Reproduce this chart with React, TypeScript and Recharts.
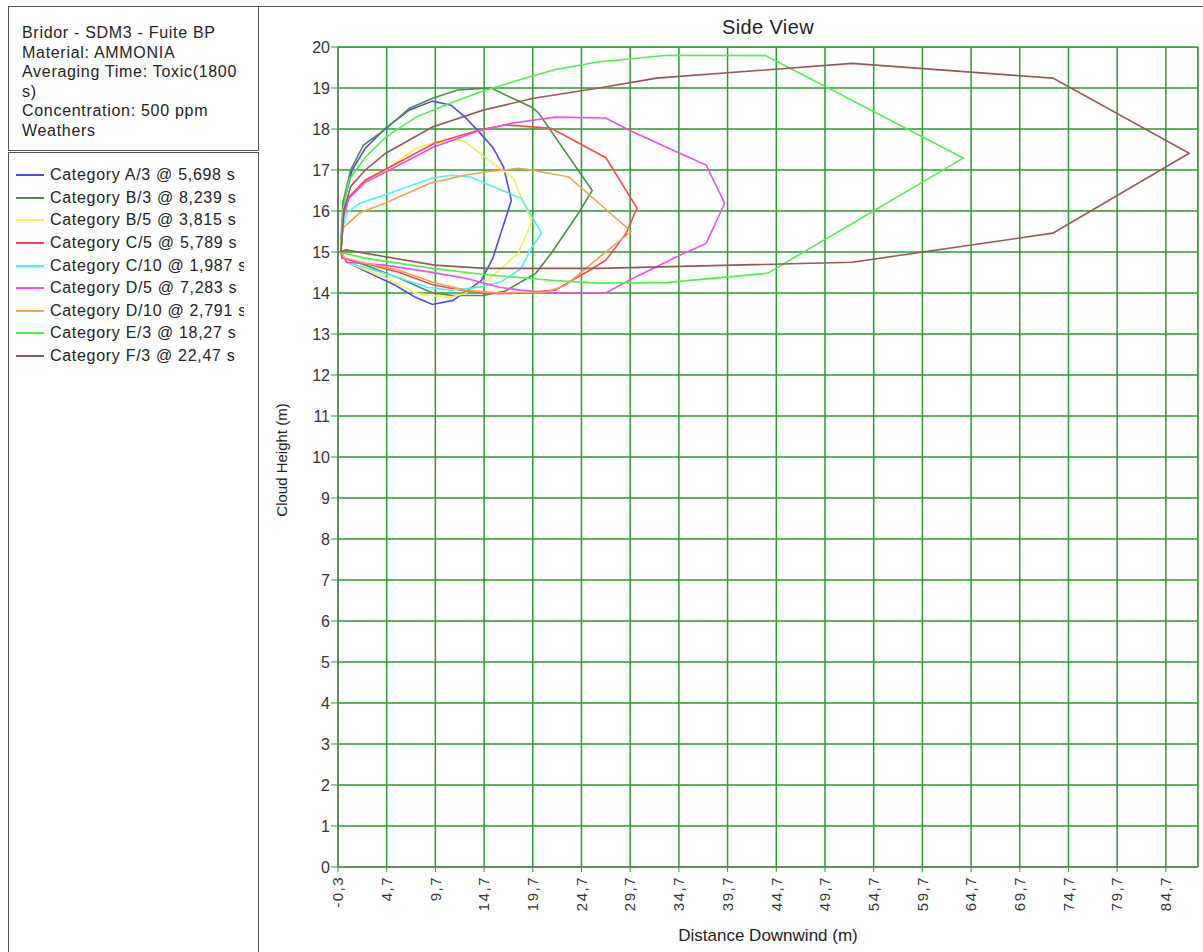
import { LineChart, Line, XAxis, YAxis, CartesianGrid } from 'recharts';

// Side view of the ammonia cloud (500 ppm) for each weather category
const catA3 = [
  { x: 0, y: 15 }, { x: 0.1, y: 15.7 }, { x: 0.4, y: 16.3 }, { x: 1.15, y: 17.0 }, { x: 2.5, y: 17.53 },
  { x: 4.6, y: 18.02 }, { x: 7.0, y: 18.46 }, { x: 9.4, y: 18.68 }, { x: 11.3, y: 18.58 }, { x: 12.7, y: 18.3 },
  { x: 14.3, y: 17.9 }, { x: 15.6, y: 17.55 }, { x: 16.7, y: 17.07 }, { x: 17.5, y: 16.26 }, { x: 15.6, y: 14.85 },
  { x: 14.4, y: 14.3 }, { x: 11.5, y: 13.82 }, { x: 9.4, y: 13.72 }, { x: 7.6, y: 13.9 }, { x: 5.5, y: 14.2 },
  { x: 3.4, y: 14.43 }, { x: 0.6, y: 14.75 }, { x: 0, y: 15 },
];
const catB3 = [
  { x: 0, y: 15 }, { x: 0.2, y: 16.2 }, { x: 1.0, y: 17.0 }, { x: 2.3, y: 17.6 }, { x: 4.6, y: 18.0 },
  { x: 7.0, y: 18.5 }, { x: 9.4, y: 18.75 }, { x: 12.0, y: 18.95 }, { x: 15.4, y: 19.0 }, { x: 16.1, y: 18.92 },
  { x: 19.6, y: 18.53 }, { x: 20.3, y: 18.39 }, { x: 25.8, y: 16.5 }, { x: 24.4, y: 15.95 }, { x: 21.6, y: 14.97 },
  { x: 20.0, y: 14.48 }, { x: 16.9, y: 14.05 }, { x: 14.6, y: 13.94 }, { x: 11.5, y: 13.94 }, { x: 9.4, y: 14.0 },
  { x: 6.0, y: 14.36 }, { x: 2.5, y: 14.68 }, { x: 0.4, y: 14.85 }, { x: 0, y: 15 },
];
const catB5 = [
  { x: 0, y: 15 }, { x: 0.2, y: 15.8 }, { x: 0.8, y: 16.34 }, { x: 2.5, y: 16.72 }, { x: 4.6, y: 17.0 },
  { x: 7.7, y: 17.53 }, { x: 9.4, y: 17.65 }, { x: 12.2, y: 17.73 }, { x: 12.8, y: 17.68 }, { x: 14.9, y: 17.29 },
  { x: 17.7, y: 16.8 }, { x: 18.5, y: 16.34 }, { x: 19.6, y: 15.75 }, { x: 18.2, y: 14.97 }, { x: 15.4, y: 14.38 },
  { x: 12.7, y: 13.99 }, { x: 11.3, y: 13.9 }, { x: 9.2, y: 13.94 }, { x: 7.6, y: 14.0 }, { x: 4.5, y: 14.38 },
  { x: 0.6, y: 14.75 }, { x: 0, y: 15 },
];
const catC5 = [
  { x: 0, y: 15 }, { x: 0.2, y: 15.8 }, { x: 0.8, y: 16.34 }, { x: 2.5, y: 16.75 }, { x: 4.6, y: 17.02 },
  { x: 9.6, y: 17.65 }, { x: 14.1, y: 17.97 }, { x: 16.9, y: 18.1 }, { x: 21.6, y: 18.02 }, { x: 27.2, y: 17.3 },
  { x: 30.4, y: 16.07 }, { x: 29.3, y: 15.46 }, { x: 27.2, y: 14.8 }, { x: 25.5, y: 14.55 }, { x: 22.0, y: 14.07 },
  { x: 18.9, y: 14.0 }, { x: 16.1, y: 13.98 }, { x: 12.8, y: 14.05 }, { x: 9.4, y: 14.2 }, { x: 6.0, y: 14.5 },
  { x: 2.5, y: 14.72 }, { x: 0.1, y: 14.85 }, { x: 0, y: 15 },
];
const catC10 = [
  { x: 0, y: 15 }, { x: 0.1, y: 15.5 }, { x: 0.6, y: 15.95 }, { x: 1.9, y: 16.19 }, { x: 4.5, y: 16.39 },
  { x: 9.3, y: 16.8 }, { x: 11.3, y: 16.87 }, { x: 13.3, y: 16.83 }, { x: 18.5, y: 16.31 }, { x: 20.6, y: 15.46 },
  { x: 19.6, y: 15.12 }, { x: 18.5, y: 14.6 }, { x: 16.5, y: 14.28 }, { x: 14.1, y: 14.14 }, { x: 11.3, y: 14.07 },
  { x: 8.9, y: 14.14 }, { x: 4.5, y: 14.48 }, { x: 0.6, y: 14.75 }, { x: 0, y: 15 },
];
const catD5 = [
  { x: 0, y: 15 }, { x: 0.2, y: 15.8 }, { x: 0.8, y: 16.3 }, { x: 2.5, y: 16.7 }, { x: 4.6, y: 16.95 },
  { x: 9.4, y: 17.55 }, { x: 14.1, y: 17.95 }, { x: 17.5, y: 18.14 }, { x: 22.0, y: 18.29 }, { x: 27.2, y: 18.27 },
  { x: 29.6, y: 17.97 }, { x: 34.8, y: 17.41 }, { x: 37.5, y: 17.12 }, { x: 39.4, y: 16.19 }, { x: 37.5, y: 15.21 },
  { x: 34.8, y: 14.92 }, { x: 29.6, y: 14.31 }, { x: 27.2, y: 14.0 }, { x: 22.0, y: 14.0 }, { x: 18.4, y: 14.07 },
  { x: 16.3, y: 14.14 }, { x: 12.8, y: 14.36 }, { x: 9.2, y: 14.51 }, { x: 4.5, y: 14.68 }, { x: 0.6, y: 14.75 },
  { x: 0, y: 15 },
];
const catD10 = [
  { x: 0, y: 15 }, { x: 0.1, y: 15.36 }, { x: 0.3, y: 15.6 }, { x: 1.9, y: 15.95 }, { x: 4.5, y: 16.19 },
  { x: 9.2, y: 16.68 }, { x: 12.7, y: 16.87 }, { x: 14.8, y: 16.95 }, { x: 18.2, y: 17.04 }, { x: 19.6, y: 17.0 },
  { x: 23.4, y: 16.83 }, { x: 29.8, y: 15.5 }, { x: 26.5, y: 14.87 }, { x: 23.1, y: 14.19 }, { x: 21.0, y: 14.02 },
  { x: 16.1, y: 14.0 }, { x: 12.7, y: 14.07 }, { x: 9.4, y: 14.27 }, { x: 6.0, y: 14.55 }, { x: 2.5, y: 14.73 },
  { x: 0.4, y: 14.85 }, { x: 0, y: 15 },
];
const catE3 = [
  { x: 0, y: 15 }, { x: 0.2, y: 16.0 }, { x: 0.8, y: 16.75 }, { x: 2.5, y: 17.31 }, { x: 4.6, y: 17.8 },
  { x: 7.7, y: 18.29 }, { x: 11.2, y: 18.63 }, { x: 14.3, y: 18.9 }, { x: 18.2, y: 19.19 }, { x: 22.0, y: 19.45 },
  { x: 26.5, y: 19.64 }, { x: 33.6, y: 19.8 }, { x: 43.6, y: 19.79 }, { x: 63.9, y: 17.29 }, { x: 43.8, y: 14.48 },
  { x: 33.6, y: 14.26 }, { x: 26.5, y: 14.24 }, { x: 21.6, y: 14.31 }, { x: 14.7, y: 14.45 }, { x: 9.4, y: 14.6 },
  { x: 2.5, y: 14.85 }, { x: 0.3, y: 14.97 }, { x: 0, y: 15 },
];
const catF3 = [
  { x: 0, y: 15 }, { x: 0.3, y: 16.0 }, { x: 1.0, y: 16.6 }, { x: 2.5, y: 17.0 }, { x: 4.6, y: 17.41 },
  { x: 9.4, y: 18.05 }, { x: 14.6, y: 18.46 }, { x: 19.8, y: 18.75 }, { x: 26.5, y: 19.0 }, { x: 32.4, y: 19.24 },
  { x: 52.5, y: 19.6 }, { x: 73.1, y: 19.24 }, { x: 87.1, y: 17.41 }, { x: 73.1, y: 15.46 }, { x: 52.5, y: 14.75 },
  { x: 26.5, y: 14.6 }, { x: 14.8, y: 14.6 }, { x: 9.6, y: 14.68 }, { x: 0.5, y: 15.05 }, { x: 0, y: 15 },
];

const seriesNames = [
  'Category A/3 @ 5,698 s',
  'Category B/3 @ 8,239 s',
  'Category B/5 @ 3,815 s',
  'Category C/5 @ 5,789 s',
  'Category C/10 @ 1,987 s',
  'Category D/5 @ 7,283 s',
  'Category D/10 @ 2,791 s',
  'Category E/3 @ 18,27 s',
  'Category F/3 @ 22,47 s',
];
const seriesColors = ['#4b4bf0', '#4a8f4a', '#f2f24a', '#f24a4a', '#4af2f2', '#f24af2', '#f7a050', '#4af24a', '#9a5656'];
const seriesData = [catA3, catB3, catB5, catC5, catC10, catD5, catD10, catE3, catF3];

const xTicks = [-0.3, 4.7, 9.7, 14.7, 19.7, 24.7, 29.7, 34.7, 39.7, 44.7, 49.7, 54.7, 59.7, 64.7, 69.7, 74.7, 79.7, 84.7];
const yTicks = [0, 1, 2, 3, 4, 5, 6, 7, 8, 9, 10, 11, 12, 13, 14, 15, 16, 17, 18, 19, 20];

const headerLines = [
  'Bridor - SDM3 - Fuite BP',
  'Material: AMMONIA',
  'Averaging Time: Toxic(1800',
  's)',
  'Concentration: 500 ppm',
  'Weathers',
];

const font = '"Liberation Sans", Arial, sans-serif';
const gridGreen = '#2a9d2a';

function XTick({ x, y, payload }: any) {
  return (
    <text
      x={x}
      y={y}
      transform={`rotate(-90 ${x} ${y})`}
      textAnchor="end"
      dy="0.35em"
      fontSize={15}
      letterSpacing={1.5}
      fill="#333"
      fontFamily={font}
    >
      {Number(payload.value).toFixed(1).replace('.', ',')}
    </text>
  );
}

export default function App() {
  return (
    <div style={{ position: 'absolute', left: 0, top: 0, width: 1203, height: 952, background: '#fff', fontFamily: font, overflow: 'hidden' }}>
      {/* top rule and left panel */}
      <div style={{ position: 'absolute', left: 8, top: 6, width: 1195, height: 0, borderTop: '1px solid #555' }} />
      <div style={{ position: 'absolute', left: 8, top: 6, width: 249, height: 144, borderLeft: '1px solid #555', borderRight: '1px solid #555', borderBottom: '1px solid #555' }} />
      <div style={{ position: 'absolute', left: 22, top: 23, fontSize: 16, letterSpacing: 0.7, lineHeight: '19.6px', color: '#222' }}>
        {headerLines.map((l) => (
          <div key={l}>{l}</div>
        ))}
      </div>
      <div style={{ position: 'absolute', left: 8, top: 152, width: 249, height: 810, borderLeft: '1px solid #555', borderRight: '1px solid #555', borderTop: '1px solid #555' }} />
      <div style={{ position: 'absolute', left: 14, top: 164, width: 230, overflow: 'hidden', fontSize: 16, letterSpacing: 0.7, color: '#222' }}>
        {seriesNames.map((n, i) => (
          <div key={n} style={{ height: 22.6, display: 'flex', alignItems: 'center', whiteSpace: 'nowrap' }}>
            <div style={{ width: 28, height: 0, borderTop: `2px solid ${seriesColors[i]}`, marginLeft: 2, marginRight: 6, flex: 'none' }} />
            {n}
          </div>
        ))}
      </div>

      {/* titles */}
      <div style={{ position: 'absolute', left: 338, width: 860, top: 16, textAlign: 'center', fontSize: 20, letterSpacing: 0.4, color: '#222' }}>Side View</div>
      <div style={{ position: 'absolute', left: 338, width: 860, top: 926, textAlign: 'center', fontSize: 17, color: '#222' }}>Distance Downwind (m)</div>
      <div style={{ position: 'absolute', left: 281, top: 460, transform: 'translate(-50%, -50%) rotate(-90deg)', whiteSpace: 'nowrap', fontSize: 15, color: '#222' }}>
        Cloud Height (m)
      </div>

      <div style={{ position: 'absolute', left: 258, top: 0 }}>
        <LineChart width={945} height={952} margin={{ top: 47, right: 5, bottom: 0, left: 0 }}>
          <CartesianGrid stroke={gridGreen} strokeWidth={1.5} />
          <XAxis
            dataKey="x"
            type="number"
            domain={[-0.3, 88.0]}
            ticks={xTicks}
            allowDataOverflow
            height={85}
            tickSize={5}
            tickMargin={4}
            tick={<XTick />}
            axisLine={{ stroke: '#666' }}
            tickLine={{ stroke: gridGreen }}
          />
          <YAxis
            dataKey="y"
            type="number"
            domain={[0, 20]}
            ticks={yTicks}
            width={80}
            tickSize={7}
            tickMargin={1}
            tick={{ fontSize: 16, fill: '#333', fontFamily: font }}
            axisLine={{ stroke: '#666' }}
            tickLine={{ stroke: gridGreen }}
          />
          {seriesData.map((d, i) => (
            <Line
              key={seriesNames[i]}
              data={d}
              dataKey="y"
              type="linear"
              stroke={seriesColors[i]}
              strokeWidth={1.6}
              dot={false}
              activeDot={false}
              isAnimationActive={false}
            />
          ))}
        </LineChart>
      </div>
      {/* plot frame */}
      <div style={{ position: 'absolute', left: 338, top: 47, width: 860, height: 820, boxSizing: 'border-box', borderTop: '1px solid #777', borderRight: '1px solid #777', pointerEvents: 'none' }} />
    </div>
  );
}
